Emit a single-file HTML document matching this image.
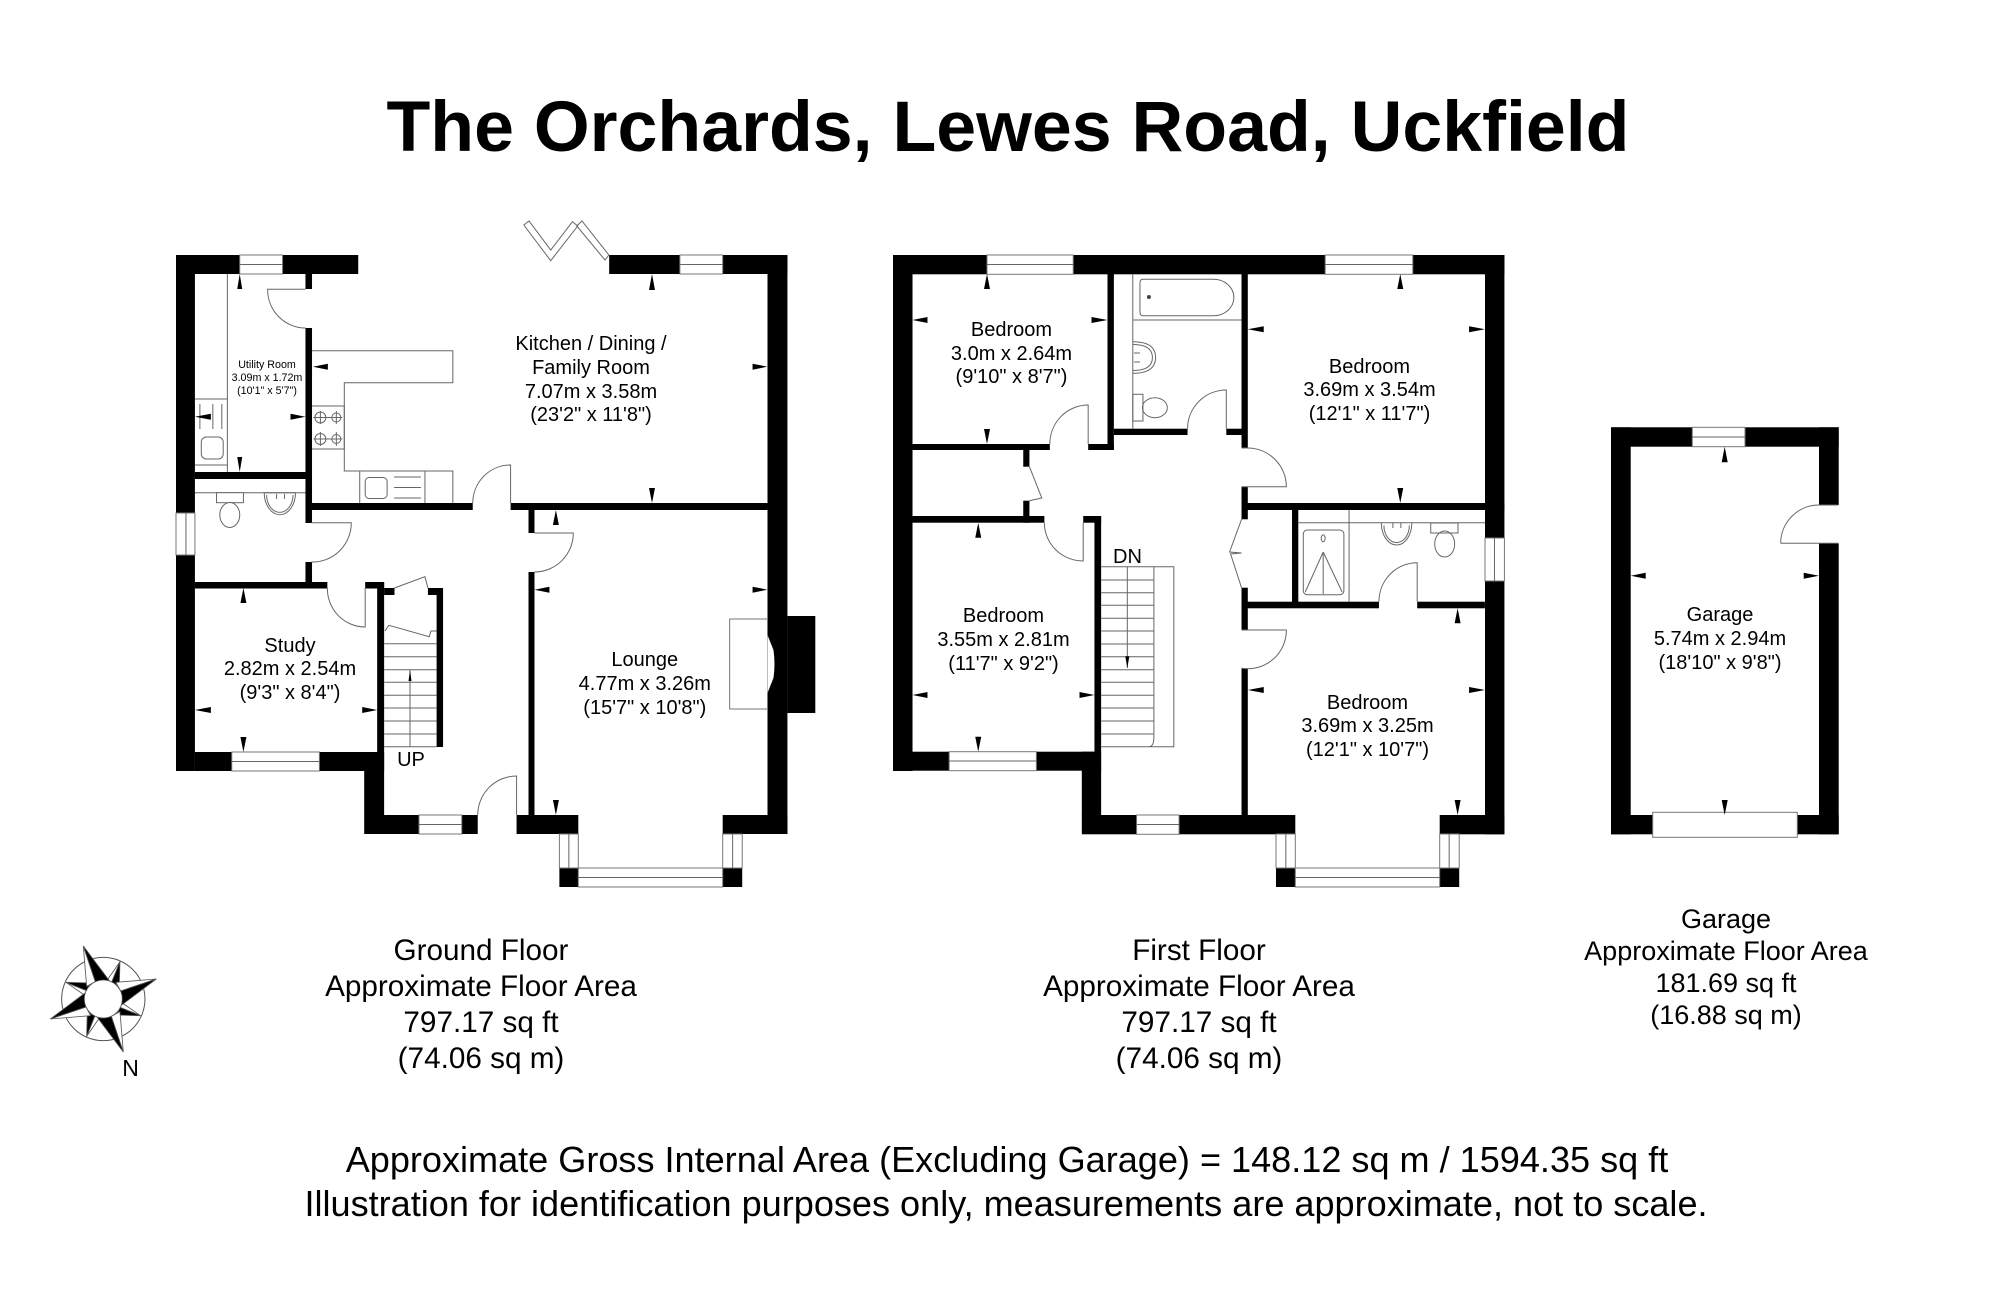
<!DOCTYPE html>
<html><head><meta charset="utf-8"><style>
html,body{margin:0;padding:0;background:#fff}
svg{display:block}
text{font-family:"Liberation Sans",sans-serif;fill:#000;text-anchor:middle}
.r{font-size:20px}
.s{font-size:10.7px}
.f{font-size:29.7px}
.g{font-size:27px}
.b{font-size:36.08px}
.w{fill:#000}
.win{fill:#fff;stroke:#777;stroke-width:1}
.l{fill:none;stroke:#666;stroke-width:1}
.k{fill:#000}
</style></head><body>
<svg width="2000" height="1303" viewBox="0 0 2000 1303" xmlns="http://www.w3.org/2000/svg">
<rect width="2000" height="1303" fill="#fff"/>
<text x="1008" y="151" style="font-size:71.7px;font-weight:bold">The Orchards, Lewes Road, Uckfield</text>

<!-- GROUND FLOOR -->
<g transform="translate(176 0) scale(.9958 1) translate(-176 0)">
<g class="w">
<rect x="176" y="255" width="183" height="19"/>
<rect x="176" y="255" width="19" height="258"/>
<rect x="176" y="555" width="19" height="216"/>
<rect x="306" y="274" width="6.6" height="15"/>
<rect x="306" y="328" width="6.6" height="195"/>
<rect x="195" y="472" width="117" height="7"/>
<rect x="306" y="562" width="6.6" height="20"/>
<rect x="195" y="582" width="133" height="6.5"/>
<rect x="366" y="582" width="19" height="6.5"/>
<rect x="378" y="582" width="7" height="170"/>
<rect x="195" y="752" width="190" height="19"/>
<rect x="365" y="752" width="20" height="63"/>
<rect x="385" y="588" width="10.4" height="7"/>
<rect x="429" y="588" width="15" height="7"/>
<rect x="437.7" y="588" width="6.5" height="159"/>
<rect x="365" y="815" width="114" height="19"/>
<rect x="518" y="815" width="62" height="19"/>
<rect x="725" y="815" width="65" height="19"/>
<rect x="312" y="503" width="162" height="7"/>
<rect x="512" y="503" width="258" height="7"/>
<rect x="530" y="510" width="6" height="23"/>
<rect x="530" y="572" width="6" height="243"/>
<rect x="611" y="255" width="179" height="19"/>
<rect x="770" y="255" width="20" height="579"/>
<rect x="790" y="616" width="28" height="97"/>
<rect x="561" y="868" width="19" height="19"/>
<rect x="725" y="868" width="19.6" height="19"/>
</g>
<g class="win">
<rect x="240" y="255" width="43" height="19"/>
<rect x="682" y="255" width="43" height="19"/>
<rect x="176" y="513" width="19" height="42"/>
<rect x="232" y="752" width="88" height="19"/>
<rect x="420" y="815" width="43" height="19"/>
<rect x="561" y="834" width="19" height="34"/>
<rect x="725" y="834" width="19.6" height="34"/>
<rect x="580" y="868" width="145" height="19"/>
</g>
<path class="l" d="M240 264.5H283M682 264.5H725M186 513V555M232 761.5H320M420 824.5H463M570.5 834V868M735 834V868M580 877.5H725"/>
<rect x="732" y="619" width="38" height="90" fill="#fff" stroke="#777"/>
<path d="M770 635L776 650Q778 664 776 678L770 693Z" fill="#fff"/>
<g class="l">
<path d="M306 289.3H268A38 38.5 0 0 0 306 328"/>
<path d="M512 503V465A38 38 0 0 0 474 503"/>
<path d="M312 522.7H352A39 39 0 0 1 312 562"/>
<path d="M366 588V627A38 38.5 0 0 1 328 588"/>
<path d="M536 533H575A39 39 0 0 1 536 572"/>
<path d="M518 815V776A39 39 0 0 0 479 815"/>
<path d="M395.4 588L426 576.7L429 588"/>
<path d="M385.8 631L389.7 625.3L430.3 636.7L432 631H437.7"/>
<path d="M525.3 225L530.5 221L552.3 250L574.1 221.7L579.4 226L552.3 260.7Z"/>
<path d="M578.5 226L583.7 221L610.7 255L606.8 260Z"/>
<path d="M312.6 350.7H454V382.7H345V471H454V503M360.5 471V503M426 471V503"/>
<path d="M312.6 406H345V449H312.6"/>
<rect x="366" y="477.5" width="22" height="21" rx="4"/>
<path d="M395 477H422M395 487.5H422M395 498H422"/>
<circle cx="321" cy="417.5" r="5.5"/><circle cx="337" cy="417.5" r="4.5"/>
<circle cx="321" cy="439" r="5.5"/><circle cx="337" cy="439" r="4.5"/>
<path d="M314 417.5H343M321 411V424M337 411V424M314 439H343M321 432V446M337 432V446"/>
<path d="M227.6 274V472M195 399H227.6V465H195"/>
<rect x="201.4" y="437" width="22" height="22" rx="5"/>
<path d="M200 404V429M213 404V429M222 404V429"/>
<path d="M195 492.7H306"/>
<rect x="216.7" y="492.7" width="27" height="10" fill="#fff"/>
<ellipse cx="230" cy="515" rx="10" ry="12.5" fill="#fff"/>
<path d="M264.6 492.7A15.7 22 0 0 0 296 492.7Z"/>
<path d="M267 495A13 17 0 0 0 293.5 495"/>
<path d="M277 494v5M285 494v5"/>
<path d="M385 643.7H437.7M385 656.7H437.7M385 669.7H437.7M385 682.3H437.7M385 695.3H437.7M385 708H437.7M385 721H437.7M385 734H437.7M385 746.7H437.7M411 746.7V670"/>
</g>
<path class="k" d="M411 670l-1.5 11h3z"/>
<path class="k" d="M654 274l-3 16h6zM770 366.7l-15-3v6zM313.5 366.7l15-3v6zM654 503l-3-15h6zM240 274l-2.5 15h5zM240 472l-2.5-15h5zM195 416.7l16-3v6zM306 416.7l-15-3v6zM557.5 510l-3 15h6zM536 589.7l15-3v6zM770 589.7l-15-3v6zM557.5 815l-3-15h6zM243.7 588l-3 15h6zM243.7 752l-3-15h6zM195 710l16-3v6zM378 710l-15-3v6z"/>
</g>

<!-- FIRST FLOOR -->
<g transform="translate(893 0) scale(.9958 1) translate(-893 0)">
<g class="w">
<rect x="893" y="255" width="614" height="19.3"/>
<rect x="893" y="255" width="19.6" height="516"/>
<rect x="1108.4" y="274" width="6.4" height="176"/>
<rect x="912" y="444" width="138.5" height="6"/>
<rect x="1089" y="444" width="25.8" height="6"/>
<rect x="1114.8" y="428.7" width="74" height="6.3"/>
<rect x="1227.7" y="428.7" width="16" height="6.3"/>
<rect x="1243" y="274" width="6.3" height="174"/>
<rect x="1243" y="486.7" width="6.3" height="32.6"/>
<rect x="1249" y="503" width="258" height="7"/>
<rect x="1293.7" y="510" width="6.3" height="92"/>
<rect x="1243" y="601.7" width="138" height="6.6"/>
<rect x="1419.4" y="601.7" width="68" height="6.6"/>
<rect x="1243" y="587.7" width="6.3" height="42.3"/>
<rect x="1243" y="668.3" width="6.3" height="147"/>
<rect x="1487.5" y="255" width="19.5" height="283"/>
<rect x="1487.5" y="581" width="19.5" height="253.3"/>
<rect x="1023.8" y="450" width="6.2" height="16.7"/>
<rect x="1023.8" y="500.7" width="6.2" height="22"/>
<rect x="912" y="516" width="133" height="6.7"/>
<rect x="1084" y="516" width="18" height="6.7"/>
<rect x="1095.3" y="516" width="6.7" height="236"/>
<rect x="893" y="751.7" width="209" height="19"/>
<rect x="1082.6" y="751.7" width="19.4" height="64"/>
<rect x="1082.6" y="815" width="214.4" height="19.3"/>
<rect x="1442" y="815" width="65" height="19.3"/>
<rect x="1277.6" y="868" width="19.4" height="19"/>
<rect x="1442" y="868" width="19.6" height="19"/>
</g>
<g class="win">
<rect x="987.4" y="255" width="86.6" height="19.3"/>
<rect x="1327" y="255" width="88" height="19.3"/>
<rect x="1487.5" y="538" width="19.5" height="43"/>
<rect x="949.4" y="751.7" width="87.6" height="19"/>
<rect x="1137.6" y="815" width="42.7" height="19.3"/>
<rect x="1277.6" y="834" width="19.4" height="34"/>
<rect x="1442" y="834" width="19.6" height="34"/>
<rect x="1297" y="868" width="145" height="19"/>
</g>
<path class="l" d="M987.4 264.5H1074M1327 264.5H1415M1497 538V581M949.4 761H1037M1137.6 824.5H1180.3M1287.5 834V868M1451.5 834V868M1297 877.5H1442"/>
<g class="l">
<path d="M1089 444V405A38.5 39 0 0 0 1050.5 444"/>
<path d="M1227.7 428.7V390A39 38.7 0 0 0 1188.8 428.7"/>
<path d="M1243 448H1249A39 38.7 0 0 1 1288 486.7H1243"/>
<path d="M1243 630H1288A39 38.3 0 0 1 1243 668.3"/>
<path d="M1419.4 601.7V562.7A38.4 39 0 0 0 1381 601.7"/>
<path d="M1243 519.3L1231 552L1243 553L1232 554L1243 587.7"/>
<path d="M1030 466.7L1042.4 498L1030 500.7"/>
<path d="M1084 522.7V561A39 38.3 0 0 1 1045 522.7"/>
<path d="M1102 566.7H1175V746.7H1102M1155 566.7V737Q1155 746.7 1150 746.7M1102 580H1155M1102 592.7H1155M1102 605.3H1155M1102 618.3H1155M1102 631H1155M1102 644H1155M1102 656.7H1155M1102 669.7H1155M1102 682.3H1155M1102 695.3H1155M1102 708H1155M1102 721H1155M1102 734H1155M1128.3 566.7V668"/>
<path d="M1133.8 274V428.7M1133.8 320H1243"/>
<path d="M1144 279.3H1215A20.3 18.2 0 0 1 1215 315.7H1144Q1141 315.7 1141 312V283Q1141 279.3 1144 279.3Z"/>
<path d="M1133.8 341.7Q1156.7 341.7 1156.7 357.5T1133.8 373.3M1133.8 344.5Q1153.5 344.5 1153.5 357.5T1133.8 370.5M1135 353h6M1135 362h6"/>
<rect x="1133.8" y="394.3" width="10.2" height="26.7"/>
<ellipse cx="1156" cy="407.7" rx="12.5" ry="10"/>
<path d="M1300 522.7H1487.5M1351 510V601.7"/>
<rect x="1305" y="530" width="40.8" height="64.7" rx="4"/>
<ellipse cx="1325" cy="538.3" rx="2" ry="3.5"/>
<path d="M1325 552L1307 592M1325 552L1344 592M1325 552V594"/>
<path d="M1383.4 523A15.3 22 0 0 0 1414 523M1386 525.5A12.7 17 0 0 0 1411.5 525.5M1395 523v5M1403 523v5"/>
<rect x="1433" y="523" width="27.4" height="10" fill="#fff"/>
<ellipse cx="1447" cy="544" rx="10" ry="13"/>
</g>
<circle cx="1150" cy="297" r="2" fill="#444"/>
<path class="k" d="M1128.3 668.3l-2-12h4z"/>
<path class="k" d="M987.4 274l-3 15h6zM987.4 444l-3-15h6zM912.6 320l15-3v6zM1108.4 320l-16-3v6zM1402.4 274l-3 15h6zM1402.4 503l-3-15h6zM1249.3 329.3l16-3v6zM1487.5 329.3l-16-3v6zM978.6 522.7l-3 15h6zM978.6 751.7l-3-15h6zM912.6 695l15-3v6zM1095.3 695l-15-3v6zM1460 608.3l-3 15h6zM1460 815l-3-15h6zM1249.3 690l16-3v6zM1487.5 690l-16-3v6z"/>
</g>

<!-- GARAGE -->
<g class="w">
<rect x="1611" y="427.3" width="227.7" height="19.4"/>
<rect x="1611" y="427.3" width="19.7" height="407"/>
<rect x="1819" y="427.3" width="19.7" height="77.7"/>
<rect x="1819" y="543.3" width="19.7" height="291"/>
<rect x="1611" y="815" width="227.7" height="19.3"/>
</g>
<g class="win">
<rect x="1692.3" y="427.3" width="52.7" height="19.4"/>
<rect x="1652.7" y="812.3" width="144.6" height="25"/>
</g>
<path class="l" d="M1692.3 437H1745"/>
<path class="l" d="M1780.7 543.3H1838M1780.7 543.3A38.3 38.3 0 0 1 1819 505H1838"/>
<path class="k" d="M1724.7 446.7l-3 15.6h6zM1724.7 815l-3-15h6zM1630.7 575.7l15-3v6zM1819 575.7l-15.3-3v6z"/>

<!-- compass -->
<g transform="translate(103.3 999) scale(.3333)">
<circle r="125" fill="#fff" stroke="#555" stroke-width="3"/>
<g stroke="#555" stroke-width="2.5">
<g><path d="M50-112L12-57L25-50Z" fill="#fff"/><path d="M50-112L25-50L48-40Z" fill="#000"/></g>
<g transform="rotate(90)"><path d="M50-112L12-57L25-50Z" fill="#fff"/><path d="M50-112L25-50L48-40Z" fill="#000"/></g>
<g transform="rotate(180)"><path d="M50-112L12-57L25-50Z" fill="#fff"/><path d="M50-112L25-50L48-40Z" fill="#000"/></g>
<g transform="rotate(270)"><path d="M50-112L12-57L25-50Z" fill="#fff"/><path d="M50-112L25-50L48-40Z" fill="#000"/></g>
<g><path d="M-60-159L-50-38L-24-52Z" fill="#fff"/><path d="M-60-159L-24-52L18-55Z" fill="#000"/></g>
<g transform="rotate(90)"><path d="M-60-159L-50-38L-24-52Z" fill="#fff"/><path d="M-60-159L-24-52L18-55Z" fill="#000"/></g>
<g transform="rotate(180)"><path d="M-60-159L-50-38L-24-52Z" fill="#fff"/><path d="M-60-159L-24-52L18-55Z" fill="#000"/></g>
<g transform="rotate(270)"><path d="M-60-159L-50-38L-24-52Z" fill="#fff"/><path d="M-60-159L-24-52L18-55Z" fill="#000"/></g>
</g>
<circle r="57" fill="#fff" stroke="#555" stroke-width="2.5"/>
</g>
<text x="130.5" y="1076" style="font-size:23px">N</text>

<!-- LABELS -->
<text class="s"><tspan x="267" y="368">Utility Room</tspan><tspan x="267" y="381">3.09m x 1.72m</tspan><tspan x="267" y="394">(10'1" x 5'7")</tspan></text>
<text class="r"><tspan x="591" y="350">Kitchen / Dining /</tspan><tspan x="591" y="374">Family Room</tspan><tspan x="591" y="398">7.07m x 3.58m</tspan><tspan x="591" y="421">(23'2" x 11'8")</tspan></text>
<text class="r"><tspan x="290" y="652">Study</tspan><tspan x="290" y="675">2.82m x 2.54m</tspan><tspan x="290" y="699">(9'3" x 8'4")</tspan></text>
<text class="r"><tspan x="644.8" y="666">Lounge</tspan><tspan x="644.8" y="690">4.77m x 3.26m</tspan><tspan x="644.8" y="714">(15'7" x 10'8")</tspan></text>
<text class="r" x="411" y="766">UP</text>
<text class="r" x="1127.5" y="563">DN</text>
<text class="r"><tspan x="1011.5" y="336">Bedroom</tspan><tspan x="1011.5" y="360">3.0m x 2.64m</tspan><tspan x="1011.5" y="383">(9'10" x 8'7")</tspan></text>
<text class="r"><tspan x="1369.5" y="373">Bedroom</tspan><tspan x="1369.5" y="396">3.69m x 3.54m</tspan><tspan x="1369.5" y="420">(12'1" x 11'7")</tspan></text>
<text class="r"><tspan x="1003.5" y="622">Bedroom</tspan><tspan x="1003.5" y="646">3.55m x 2.81m</tspan><tspan x="1003.5" y="670">(11'7" x 9'2")</tspan></text>
<text class="r"><tspan x="1367.5" y="709">Bedroom</tspan><tspan x="1367.5" y="732">3.69m x 3.25m</tspan><tspan x="1367.5" y="756">(12'1" x 10'7")</tspan></text>
<text class="r"><tspan x="1720" y="621">Garage</tspan><tspan x="1720" y="645">5.74m x 2.94m</tspan><tspan x="1720" y="669">(18'10" x 9'8")</tspan></text>

<text class="f"><tspan x="481" y="960">Ground Floor</tspan><tspan x="481" y="996">Approximate Floor Area</tspan><tspan x="481" y="1032">797.17 sq ft</tspan><tspan x="481" y="1068">(74.06 sq m)</tspan></text>
<text class="f"><tspan x="1199" y="960">First Floor</tspan><tspan x="1199" y="996">Approximate Floor Area</tspan><tspan x="1199" y="1032">797.17 sq ft</tspan><tspan x="1199" y="1068">(74.06 sq m)</tspan></text>
<text class="g"><tspan x="1726" y="928">Garage</tspan><tspan x="1726" y="960">Approximate Floor Area</tspan><tspan x="1726" y="992">181.69 sq ft</tspan><tspan x="1726" y="1024">(16.88 sq m)</tspan></text>

<text class="b" x="1007" y="1172">Approximate Gross Internal Area (Excluding Garage) = 148.12 sq m / 1594.35 sq ft</text>
<text class="b" x="1006" y="1216">Illustration for identification purposes only, measurements are approximate, not to scale.</text>
</svg>
</body></html>
